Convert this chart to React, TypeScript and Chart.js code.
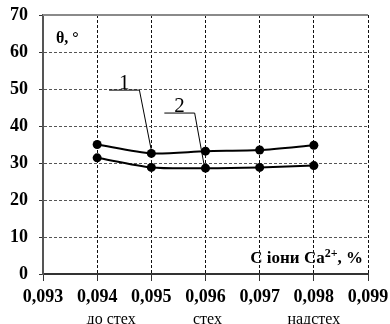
import React, { useEffect, useRef } from "react";
import { Chart, registerables } from "chart.js";

Chart.register(...registerables);

const xValues = [0.094, 0.095, 0.096, 0.097, 0.098];
const series1 = [35.0, 32.6, 33.2, 33.5, 34.8];
const series2 = [31.4, 28.8, 28.6, 28.8, 29.3];
const stageLabels = [
  { x: 0.094, text: "до стех", shift: 14 },
  { x: 0.096, text: "стех", shift: 2 },
  { x: 0.098, text: "надстех", shift: 0 },
];
// annotation leaders in data units: label, horizontal start, horizontal end, tip
const leaders = [
  { label: "1", y: 49.7, x1: 0.09422, x2: 0.09478, tipX: 0.095, tipY: 33.4 },
  { label: "2", y: 43.5, x1: 0.09524, x2: 0.0958, tipX: 0.09598, tipY: 29.0 },
];

const SERIF = "'Liberation Serif', 'Times New Roman', serif";

const overlay = {
  id: "overlay",
  afterDraw(chart: any) {
    const ctx = chart.ctx as CanvasRenderingContext2D;
    const xs = chart.scales.x;
    const ys = chart.scales.y;
    const area = chart.chartArea;
    ctx.save();
    // top border
    ctx.strokeStyle = "#8a8a8a";
    ctx.lineWidth = 2;
    ctx.setLineDash([]);
    ctx.beginPath();
    ctx.moveTo(area.left, area.top);
    ctx.lineTo(area.right, area.top);
    ctx.stroke();

    // theta label
    ctx.fillStyle = "#000";
    ctx.font = `bold 16px ${SERIF}`;
    ctx.textAlign = "left";
    ctx.textBaseline = "alphabetic";
    ctx.fillText("θ, °", area.left + 13, area.top + 28);

    // leaders
    ctx.lineWidth = 1;
    ctx.strokeStyle = "#000";
    for (const l of leaders) {
      const px1 = xs.getPixelForValue(l.x1);
      const px2 = xs.getPixelForValue(l.x2);
      const py = ys.getPixelForValue(l.y);
      ctx.beginPath();
      ctx.moveTo(px1, py);
      ctx.lineTo(px2, py);
      ctx.lineTo(xs.getPixelForValue(l.tipX), ys.getPixelForValue(l.tipY));
      ctx.stroke();
      ctx.font = `21px ${SERIF}`;
      ctx.textAlign = "center";
      ctx.fillText(l.label, (px1 + px2) / 2, py - 1);
    }

    // axis title
    const y0 = ys.getPixelForValue(0);
    const baseY = y0 - 11;
    ctx.textAlign = "left";
    const p1 = "C іони Ca";
    const p3 = ", %";
    ctx.font = `bold 12px ${SERIF}`;
    const supW = ctx.measureText("2+").width;
    ctx.font = `bold 17px ${SERIF}`;
    const w1 = ctx.measureText(p1).width;
    const w3 = ctx.measureText(p3).width;
    let tx = area.right - 5 - (w1 + supW + w3);
    ctx.fillText(p1, tx, baseY);
    tx += w1;
    ctx.font = `bold 12px ${SERIF}`;
    ctx.fillText("2+", tx, baseY - 6);
    tx += supW;
    ctx.font = `bold 17px ${SERIF}`;
    ctx.fillText(p3, tx, baseY);

    // stage labels
    ctx.font = `16px ${SERIF}`;
    ctx.textAlign = "center";
    for (const s of stageLabels) {
      ctx.fillText(s.text, xs.getPixelForValue(s.x) + s.shift, 324);
    }
    ctx.restore();
  },
};

export default function App() {
  const ref = useRef<HTMLCanvasElement>(null);
  useEffect(() => {
    if (!ref.current) return;
    const fmt = (v: number) => v.toFixed(3).replace(".", ",");
    const chart = new Chart(ref.current, {
      type: "line",
      data: {
        datasets: [
          {
            label: "1",
            data: xValues.map((x, i) => ({ x, y: series1[i] })),
            borderColor: "#000",
            backgroundColor: "#000",
            borderWidth: 2,
            pointRadius: 4.5,
            pointBackgroundColor: "#000",
            pointBorderWidth: 0,
            tension: 0.25,
          },
          {
            label: "2",
            data: xValues.map((x, i) => ({ x, y: series2[i] })),
            borderColor: "#000",
            backgroundColor: "#000",
            borderWidth: 2,
            pointRadius: 4.5,
            pointBackgroundColor: "#000",
            pointBorderWidth: 0,
            tension: 0.25,
          },
        ],
      },
      options: {
        responsive: false,
        animation: false,
        layout: { padding: { left: 0, top: 15, right: 22, bottom: 0 } },
        plugins: { legend: { display: false }, tooltip: { enabled: false } },
        scales: {
          x: {
            type: "linear",
            min: 0.093,
            max: 0.099,
            afterFit: (s: any) => {
              s.height = 50;
              s.paddingLeft = 0;
              s.paddingRight = 0;
            },
            ticks: {
              stepSize: 0.001,
              callback: (v: any) => fmt(Number(v)),
              font: { family: SERIF, size: 18, weight: "bold" },
              color: "#000",
              padding: 6,
              maxRotation: 0,
              autoSkip: false,
            },
            grid: {
              color: "#111",
              lineWidth: 1,
              tickLength: 7,
              tickColor: "#333",
              tickBorderDash: [],
            },
            border: { display: true, color: "#333", width: 2, dash: [3, 2] },
          },
          y: {
            min: 0,
            max: 70,
            afterFit: (s: any) => {
              s.width = 43;
              s.paddingTop = 0;
              s.paddingBottom = 0;
            },
            ticks: {
              stepSize: 10,
              font: { family: SERIF, size: 18, weight: "bold" },
              color: "#000",
              padding: 11,
            },
            grid: {
              color: "#555",
              lineWidth: 1,
              tickLength: 4,
              tickColor: "#333",
              tickBorderDash: [],
            },
            border: { display: true, color: "#555", width: 2, dash: [3, 2] },
          },
        },
      },
      plugins: [overlay],
    });
    return () => chart.destroy();
  }, []);
  return (
    <div style={{ position: "fixed", left: 0, top: 0, width: 390, height: 324, background: "#fff" }}>
      <canvas ref={ref} width={390} height={324} style={{ width: 390, height: 324 }} />
    </div>
  );
}
